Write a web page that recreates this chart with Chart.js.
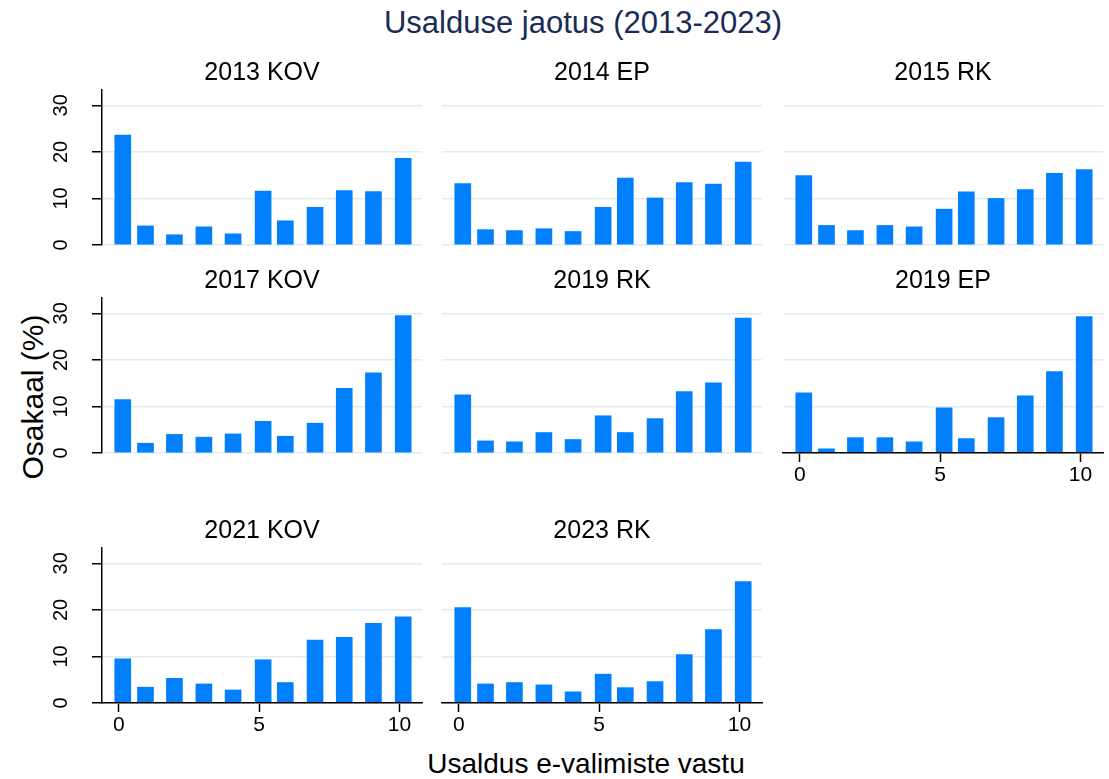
<!DOCTYPE html>
<html>
<head>
<meta charset="utf-8">
<title>Usalduse jaotus (2013-2023)</title>
<script src="https://cdn.jsdelivr.net/npm/chart.js@4.4.1/dist/chart.umd.min.js"></script>
<style>
  html, body { margin: 0; padding: 0; background: #fff; overflow: hidden; }
  body { width: 1109px; height: 779px; position: relative; font-family: 'Liberation Sans', Arial, sans-serif; }
  canvas { position: absolute; }
  .lbl { position: absolute; white-space: nowrap; line-height: 1; transform: translate(-50%, -50%); color: #000; }
</style>
</head>
<body>
<div class="lbl" style="left:583px; top:22px; font-size:31px; color:#1a2b56;">Usalduse jaotus (2013-2023)</div>
<div class="lbl" style="left:586px; top:764px; font-size:28px;">Usaldus e-valimiste vastu</div>
<div class="lbl" style="left:33px; top:397px; font-size:30px; transform:translate(-50%, -50%) rotate(-90deg);">Osakaal (%)</div>
<script>
// bar centres on the trust scale (0..10), as they sit in the picture
const barX = [0.14, 0.95, 1.98, 3.03, 4.07, 5.14, 5.93, 6.99, 8.03, 9.07, 10.13];

// share of answers (%) per panel
const kov2013 = [23.6, 4.1, 2.2, 3.9, 2.4, 11.6, 5.2, 8.1, 11.7, 11.5, 18.6];
const ep2014  = [13.2, 3.3, 3.1, 3.5, 2.9, 8.1, 14.4, 10.1, 13.4, 13.1, 17.8];
const rk2015  = [14.9, 4.2, 3.1, 4.2, 3.9, 7.7, 11.4, 10.0, 11.9, 15.4, 16.2];
const kov2017 = [11.5, 2.1, 4.0, 3.4, 4.1, 6.8, 3.6, 6.4, 13.9, 17.2, 29.5];
const rk2019  = [12.5, 2.6, 2.4, 4.4, 2.9, 8.0, 4.4, 7.4, 13.2, 15.1, 29.0];
const ep2019  = [12.9, 0.9, 3.3, 3.3, 2.4, 9.7, 3.1, 7.6, 12.3, 17.5, 29.3];
const kov2021 = [9.5, 3.4, 5.3, 4.1, 2.8, 9.3, 4.4, 13.5, 14.1, 17.1, 18.5];
const rk2023  = [20.5, 4.1, 4.4, 3.9, 2.4, 6.2, 3.3, 4.6, 10.4, 15.8, 26.1];

const panelTitles = ['2013 KOV', '2014 EP', '2015 RK', '2017 KOV', '2019 RK', '2019 EP', '2021 KOV', '2023 RK'];
const panelValues = [kov2013, ep2014, rk2015, kov2017, rk2019, ep2019, kov2021, rk2023];

const yTicks = [0, 10, 20, 30];
const xTicks = [0, 5, 10];

// layout of the grid of small charts
const colLeft = [102, 442, 783];
const rowTop = [90, 298, 548];
const plotW = 320, plotH = 155;
const axisW = 56, titleH = 32, xAxisH = 40, padBottom = 16;
const fontFamily = "'Liberation Sans', Arial, sans-serif";
const barColor = 'rgb(0, 128, 255)';
const gridColor = 'rgb(226, 236, 240)';

for (let i = 0; i < panelTitles.length; i++) {
    const row = Math.floor(i / 3);
    const col = i % 3;
    const showY = col === 0;
    const showX = i >= 5; // bottom chart of each column carries the x axis

    const cv = document.createElement('canvas');
    cv.width = axisW + plotW + 4;
    cv.height = titleH + plotH + (showX ? xAxisH : 0) + padBottom;
    cv.style.left = (colLeft[col] - axisW) + 'px';
    cv.style.top = (rowTop[row] - titleH) + 'px';
    document.body.appendChild(cv);

    new Chart(cv, {
        type: 'bar',
        data: {
            datasets: [{
                data: barX.map((x, k) => ({x: x, y: panelValues[i][k]})),
                backgroundColor: barColor,
                borderWidth: 0,
                barThickness: 16
            }]
        },
        options: {
            responsive: false,
            animation: false,
            layout: {padding: {left: 0, right: 4, top: 0, bottom: padBottom}},
            plugins: {
                legend: {display: false},
                tooltip: {enabled: false},
                title: {
                    display: true,
                    text: panelTitles[i],
                    fullSize: false,
                    color: '#000',
                    font: {size: 25, weight: 'normal', family: fontFamily},
                    padding: {top: 0, bottom: 2}
                }
            },
            scales: {
                x: {
                    type: 'linear',
                    min: -0.6,
                    max: 10.8,
                    offset: false,
                    afterBuildTicks: s => { s.ticks = xTicks.map(v => ({value: v})); },
                    afterFit: s => { s.height = showX ? xAxisH : 0; s.paddingLeft = 0; s.paddingRight = 0; },
                    grid: {offset: false, drawOnChartArea: false, drawTicks: showX, tickLength: 9, tickColor: '#000', tickWidth: 1.5},
                    border: {display: showX, color: '#000', width: 1.5, z: 1},
                    ticks: {display: showX, color: '#000', padding: 1, maxRotation: 0, autoSkip: false,
                            font: {size: 21, family: fontFamily}}
                },
                y: {
                    min: 0,
                    max: 33.3,
                    afterBuildTicks: s => { s.ticks = yTicks.map(v => ({value: v})); },
                    afterFit: s => { s.width = axisW; s.paddingTop = 0; s.paddingBottom = 0; },
                    grid: {color: gridColor, lineWidth: 1.5, drawTicks: showY, tickLength: 10, tickColor: '#000', tickWidth: 1.5},
                    border: {display: showY, color: '#000', width: 1.5},
                    ticks: {display: showY, color: '#000', padding: 19, minRotation: 90, maxRotation: 90, crossAlign: 'center',
                            font: {size: 20, family: fontFamily}}
                }
            }
        }
    });
}
</script>
</body>
</html>
